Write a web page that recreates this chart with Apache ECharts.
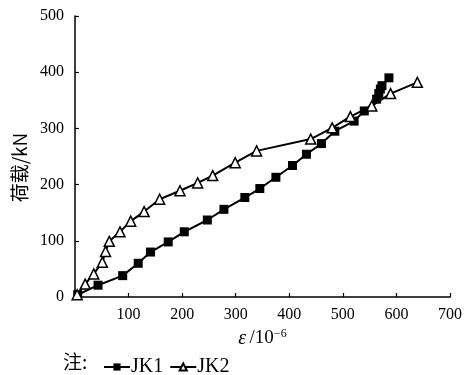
<!DOCTYPE html>
<html>
<head>
<meta charset="utf-8">
<script src="https://cdn.jsdelivr.net/npm/echarts@6/dist/echarts.min.js"></script>
<style>
  html, body { margin: 0; padding: 0; background: #fff; }
  #chart { width: 471px; height: 375px; }
</style>
</head>
<body>
<div id="chart"></div>
<script>
// strain (10^-6) and load (kN)
const jk1Strain = [5, 43, 89, 118, 141, 174, 204, 247, 278, 317, 345, 375, 406, 432, 460, 485, 521, 540, 563, 567, 570, 573, 586];
const jk1Load = [4, 21, 38, 60, 80, 98, 116, 137, 156, 177, 193, 213, 234, 254, 273, 295, 313, 331, 352, 362, 370, 376, 390];
const jk2Strain = [4, 19, 35, 51, 57, 64, 84, 104, 129, 158, 196, 229, 257, 299, 339, 440, 480, 514, 554, 589, 639];
const jk2Load = [4, 23, 41, 62, 81, 99, 116, 135, 152, 174, 189, 203, 216, 239, 260, 281, 301, 321, 340, 362, 382];
const xTicks = [0, 100, 200, 300, 400, 500, 600, 700];
const yTicks = [0, 100, 200, 300, 400, 500];

const serif = "'Liberation Serif', 'Times New Roman', serif";
const cjk = "'Noto Sans CJK SC', sans-serif";

const chart = echarts.init(document.getElementById("chart"));

const option = {
  animation: false,
  backgroundColor: "#fff",
  grid: { left: 75, right: 21, top: 16, bottom: 78, containLabel: false },
  xAxis: {
    type: "value",
    min: xTicks[0],
    max: xTicks[xTicks.length - 1],
    interval: 100,
    name: "{e|ε} {t|/10}{s|−6}",
    nameLocation: "middle",
    nameGap: 31,
    nameTextStyle: {
      rich: {
        e: { fontFamily: serif, fontStyle: "italic", fontSize: 20, color: "#000" },
        t: { fontFamily: serif, fontSize: 19, color: "#000" },
        s: { fontFamily: serif, fontSize: 12, color: "#000", verticalAlign: "top", padding: [0, 0, 9, 0] },
      },
    },
    axisLine: { lineStyle: { color: "#000", width: 1.5 } },
    axisTick: { inside: true, length: 4, lineStyle: { color: "#000", width: 1.2 } },
    axisLabel: {
      color: "#000",
      fontFamily: serif,
      fontSize: 16,
      margin: 10,
      formatter: (v) => (v === 0 ? "" : v),
    },
    splitLine: { show: false },
  },
  yAxis: {
    type: "value",
    min: yTicks[0],
    max: yTicks[yTicks.length - 1],
    interval: 100,
    name: "荷载/kN",
    nameLocation: "middle",
    nameGap: 43,
    nameTextStyle: { fontFamily: cjk, fontSize: 19, color: "#000", padding: [0, 22, 0, 0] },
    axisLine: { show: true, lineStyle: { color: "#000", width: 1.5 } },
    axisTick: { show: true, inside: true, length: 4, lineStyle: { color: "#000", width: 1.2 } },
    axisLabel: { color: "#000", fontFamily: serif, fontSize: 16, margin: 11 },
    splitLine: { show: false },
  },
  legend: {
    left: 98,
    top: 352,
    itemWidth: 26,
    itemHeight: 9,
    itemGap: 6,
    textStyle: { fontFamily: serif, fontSize: 20, color: "#000", padding: [0, 0, 0, -4] },
    data: ["JK1", "JK2"],
  },
  graphic: [
    {
      type: "text",
      left: 63,
      top: 352,
      style: { text: "注:", font: "19px " + cjk, fill: "#000" },
    },
  ],
  series: [
    {
      name: "JK1",
      type: "line",
      data: jk1Strain.map((x, i) => [x, jk1Load[i]]),
      symbol: "rect",
      symbolSize: 9,
      showAllSymbol: true,
      lineStyle: { color: "#000", width: 2 },
      itemStyle: { color: "#000" },
      z: 2,
    },
    {
      name: "JK2",
      type: "line",
      data: jk2Strain.map((x, i) => [x, jk2Load[i]]),
      symbol: "triangle",
      symbolSize: 10,
      showAllSymbol: true,
      lineStyle: { color: "#000", width: 2 },
      itemStyle: { color: "#fff", borderColor: "#000", borderWidth: 1.5 },
      z: 3,
    },
  ],
};

chart.setOption(option);
window.addEventListener("resize", () => chart.resize());
</script>
</body>
</html>
